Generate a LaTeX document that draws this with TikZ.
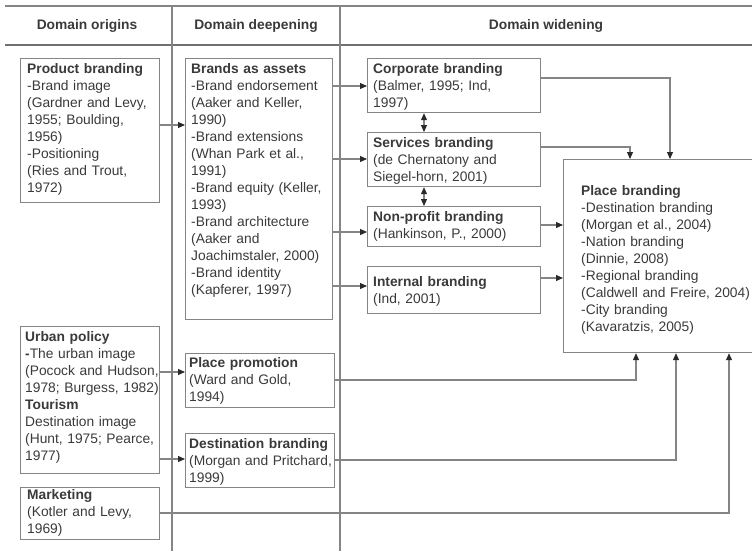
\documentclass[tikz,border=0pt]{standalone}
\usepackage{fontspec}
\setmainfont{Liberation Sans}
\usetikzlibrary{arrows.meta}
\definecolor{linegray}{HTML}{858585}
\definecolor{txtgray}{HTML}{3A3A3A}
\definecolor{headgray}{HTML}{707070}
\definecolor{tipgray}{HTML}{2A2A2A}
\tikzset{
  box/.style={draw=linegray, line width=1.2pt, rectangle, inner sep=0pt, anchor=north west},
  txt/.style={text=txtgray, anchor=base west, inner sep=0pt, align=left, text width=#1,
    font=\fontsize{13.8}{17}\selectfont},
  txt/.default=180pt,
  head/.style={text=txtgray, anchor=base, inner sep=0pt, font=\fontsize{13.8}{17}\selectfont\bfseries},
  conn/.style={draw=linegray, line width=1.1pt},
  tipA/.tip={Triangle[length=7pt,width=6pt,color=tipgray,fill=tipgray]},
  arr/.style={conn, -tipA},
  darr/.style={conn, tipA-tipA},
  frame/.style={draw=linegray, line width=1.2pt},
}
\begin{document}
\begin{tikzpicture}[x=1pt,y=-1pt]
\useasboundingbox (0,0) rectangle (752,551);
\clip (0,0) rectangle (752,551);
% header frame
\coordinate (tl) at (5,6);
\coordinate (tr) at (760,6);
\coordinate (hl) at (5,45);
\coordinate (hr) at (760,45);
\coordinate (c1t) at (172,6);
\coordinate (c1b) at (172,560);
\coordinate (c2t) at (340,6);
\coordinate (c2b) at (340,560);
\draw[frame] (tl) -- (tr);
\draw[draw=headgray, line width=2pt] (hl) -- (hr);
\draw[frame] (c1t) -- (c1b);
\draw[frame] (c2t) -- (c2b);
\node[head] (h1) at (87,30) {Domain origins};
\node[head] (h2) at (256,30) {Domain deepening};
\node[head] (h3) at (546,30) {Domain widening};

% boxes
\node[box, minimum width=139pt, minimum height=144pt] (prod) at (20,58) {};
\node[box, minimum width=139pt, minimum height=147pt] (urban) at (20,326) {};
\node[box, minimum width=139pt, minimum height=52pt] (mkt) at (20,487) {};
\node[box, minimum width=147pt, minimum height=261pt] (assets) at (185,58) {};
\node[box, minimum width=149pt, minimum height=54pt] (promo) at (185,353) {};
\node[box, minimum width=149pt, minimum height=54pt] (dest) at (185,433) {};
\node[box, minimum width=173pt, minimum height=54pt] (corp) at (367,58) {};
\node[box, minimum width=173pt, minimum height=54pt] (serv) at (367,132) {};
\node[box, minimum width=173pt, minimum height=40pt] (nonp) at (367,206) {};
\node[box, minimum width=173pt, minimum height=47pt] (intern) at (367,266) {};
\node[box, minimum width=200pt, minimum height=193pt] (place) at (563,159) {};

% texts
\node[txt] (prodT) at (27,74) {\textbf{Product branding}\\-Brand image\\(Gardner and Levy,\\1955; Boulding,\\1956)\\-Positioning\\(Ries and Trout,\\1972)};
\node[txt] (urbanT) at (25,341) {\textbf{Urban policy}\\\textbf{-}The urban image\\(Pocock and Hudson,\\1978; Burgess, 1982)\\\textbf{Tourism}\\Destination image\\(Hunt, 1975; Pearce,\\1977)};
\node[txt] (mktT) at (27,499) {\textbf{Marketing}\\(Kotler and Levy,\\1969)};
\node[txt] (assetsT) at (191,74) {\textbf{Brands as assets}\\-Brand endorsement\\(Aaker and Keller,\\1990)\\-Brand extensions\\(Whan Park et al.,\\1991)\\-Brand equity (Keller,\\1993)\\-Brand architecture\\(Aaker and\\Joachimstaler, 2000)\\-Brand identity\\(Kapferer, 1997)};
\node[txt] (promoT) at (189,367) {\textbf{Place promotion}\\(Ward and Gold,\\1994)};
\node[txt] (destT) at (189,448) {\textbf{Destination branding}\\(Morgan and Pritchard,\\1999)};
\node[txt] (corpT) at (373,74) {\textbf{Corporate branding}\\(Balmer, 1995; Ind,\\1997)};
\node[txt] (servT) at (373,147) {\textbf{Services branding}\\(de Chernatony and\\Siegel-horn, 2001)};
\node[txt] (nonpT) at (373,221) {\textbf{Non-profit branding}\\(Hankinson, P., 2000)};
\node[txt] (internT) at (373,286) {\textbf{Internal branding}\\(Ind, 2001)};
\node[txt] (placeT) at (581,195) {\textbf{Place branding}\\-Destination branding\\(Morgan et al., 2004)\\-Nation branding\\(Dinnie, 2008)\\-Regional branding\\(Caldwell and Freire, 2004)\\-City branding\\(Kavaratzis, 2005)};

% connectors
\draw[arr] (prod.east |- 0,125) -- (assets.west |- 0,125);
\draw[arr] (assets.east |- 0,86) -- (corp.west |- 0,86);
\draw[arr] (assets.east |- 0,159) -- (serv.west |- 0,159);
\draw[arr] (assets.east |- 0,232) -- (nonp.west |- 0,232);
\draw[arr] (assets.east |- 0,286) -- (intern.west |- 0,286);
\draw[darr] (corp.south -| 424,0) -- (serv.north -| 424,0);
\draw[darr] (serv.south -| 424,0) -- (nonp.north -| 424,0);
\draw[arr] (corp.east |- 0,78) -| (place.north -| 670,0);
\draw[arr] (serv.east |- 0,147) -| (place.north -| 630,0);
\draw[arr] (nonp.east |- 0,225) -- (place.west |- 0,225);
\draw[arr] (intern.east |- 0,278) -- (place.west |- 0,278);
\draw[arr] (urban.east |- 0,372) -- (promo.west |- 0,372);
\draw[arr] (urban.east |- 0,459) -- (dest.west |- 0,459);
\draw[arr] (promo.east |- 0,380) -| (place.south -| 636,0);
\draw[arr] (dest.east |- 0,460) -| (place.south -| 676,0);
\draw[arr] (mkt.east |- 0,513) -| (place.south -| 729,0);
\end{tikzpicture}
\end{document}
